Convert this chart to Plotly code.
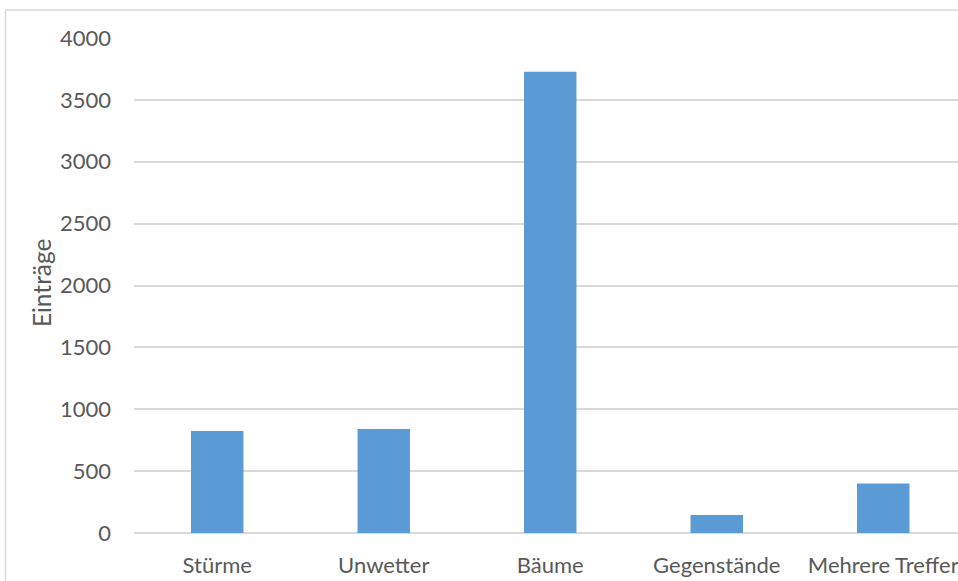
import plotly.graph_objects as go

# Anzahl der Einträge je Kategorie
categories = ["Stürme", "Unwetter", "Bäume", "Gegenstände", "Mehrere Treffer"]
entries = [825, 840, 3727, 145, 400]
y_ticks = [0, 500, 1000, 1500, 2000, 2500, 3000, 3500, 4000]

W, H = 958, 581
ML, MR, MT, MB = 134, 0, 37.5, 47.7
plot_w = W - ML - MR
plot_h = H - MT - MB
cat_px = 166.5  # horizontal space per category

FONT = "Lato"
GRAY = "#595959"
GRID = "#d9d9d9"


def px_to_paper_x(px):
    return (px - ML) / plot_w


def px_to_paper_y(py):
    return (H - MB - py) / plot_h


fig = go.Figure(
    go.Bar(
        x=list(range(len(categories))),
        y=entries,
        marker=dict(color="#5b9bd5", line=dict(width=0)),
        width=0.315,
    )
)

fig.update_layout(
    width=W,
    height=H,
    margin=dict(l=ML, r=MR, t=MT, b=MB, pad=0),
    paper_bgcolor="white",
    plot_bgcolor="white",
    showlegend=False,
    font=dict(family=FONT, color=GRAY),
    xaxis=dict(
        tickmode="array",
        tickvals=list(range(len(categories))),
        ticktext=categories,
        range=[-0.5, -0.5 + plot_w / cat_px],
        showgrid=False,
        zeroline=False,
        showline=False,
        ticks="",
        tickfont=dict(size=22, family=FONT, color=GRAY),
        ticklabelstandoff=17,
        ticklabeloverflow="allow",
        fixedrange=True,
    ),
    yaxis=dict(
        range=[0, 4000],
        tickmode="array",
        tickvals=y_ticks,
        ticktext=[str(v) for v in y_ticks],
        showgrid=True,
        gridcolor=GRID,
        gridwidth=1.5,
        zeroline=True,
        zerolinecolor=GRID,
        zerolinewidth=1.5,
        showline=False,
        ticks="",
        tickfont=dict(size=22, family=FONT, color=GRAY),
        ticklabelstandoff=22,
        fixedrange=True,
    ),
    annotations=[
        dict(
            text="Einträge",
            x=px_to_paper_x(41),
            y=px_to_paper_y(283),
            xref="paper",
            yref="paper",
            textangle=-90,
            showarrow=False,
            font=dict(size=24.5, family=FONT, color=GRAY),
            xanchor="center",
            yanchor="middle",
        )
    ],
    shapes=[
        # chart frame (left and top edges visible)
        dict(type="line", xref="paper", yref="paper",
             x0=px_to_paper_x(5.5), x1=px_to_paper_x(5.5),
             y0=px_to_paper_y(9.5), y1=px_to_paper_y(H + 5),
             line=dict(color=GRID, width=1.5), layer="below"),
        dict(type="line", xref="paper", yref="paper",
             x0=px_to_paper_x(5.5), x1=px_to_paper_x(W + 5),
             y0=px_to_paper_y(9.5), y1=px_to_paper_y(9.5),
             line=dict(color=GRID, width=1.5), layer="below"),
    ],
)

fig.write_html("out.html", config={"displayModeBar": False})
